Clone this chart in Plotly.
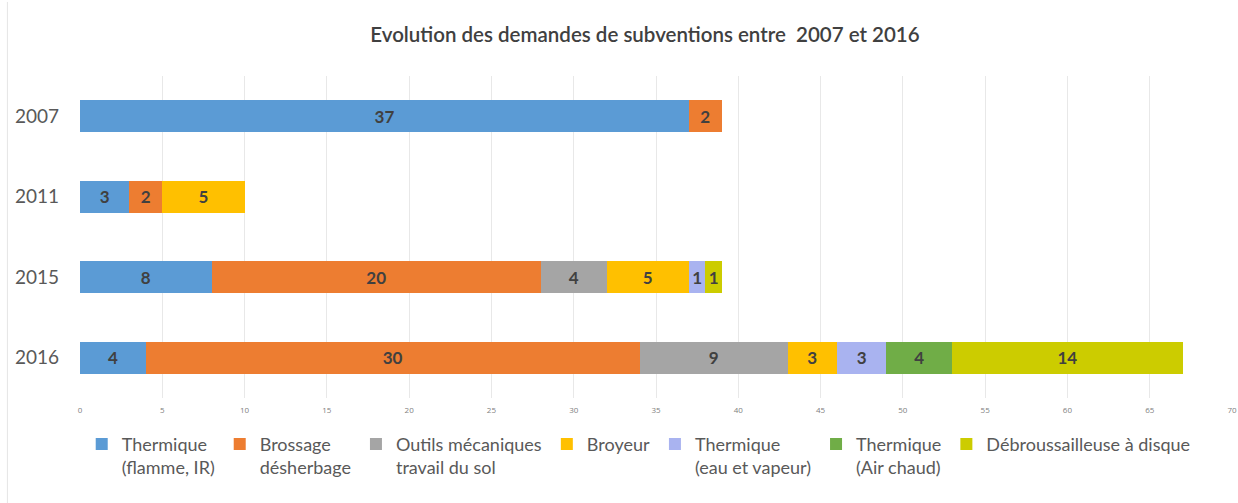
import plotly.graph_objects as go

years = ["2007", "2011", "2015", "2016"]
series_names = [
    "Thermique<br>(flamme, IR)",
    "Brossage<br>désherbage",
    "Outils mécaniques<br>travail du sol",
    "Broyeur",
    "Thermique<br>(eau et vapeur)",
    "Thermique<br>(Air chaud)",
    "Débroussailleuse à disque",
]
thermique_flamme = [37, 3, 8, 4]
brossage = [2, 2, 20, 30]
outils = [None, None, 4, 9]
broyeur = [None, 5, 5, 3]
thermique_eau = [None, None, 1, 3]
thermique_air = [None, None, None, 4]
debroussailleuse = [None, None, 1, 14]
series_values = [thermique_flamme, brossage, outils, broyeur, thermique_eau, thermique_air, debroussailleuse]
colors = ["#5B9BD5", "#ED7D31", "#A5A5A5", "#FFC000", "#A9B3F0", "#70AD47", "#CCCC00"]
x_ticks = list(range(0, 71, 5))

fig = go.Figure()
for name, vals, col in zip(series_names, series_values, colors):
    fig.add_trace(go.Bar(
        y=years, x=vals, name=name, orientation="h",
        marker=dict(color=col, line=dict(width=0)),
        text=[("" if v is None else str(v)) for v in vals],
        textposition="inside", insidetextanchor="middle", textangle=0,
        textfont=dict(family="Lato", size=17, color="#404040", weight="bold"),
        constraintext="none",
        hoverinfo="x+name",
    ))

fig.update_layout(
    barmode="stack",
    bargap=0.6,
    width=1238, height=503,
    margin=dict(l=80, r=6, t=76, b=105, autoexpand=False),
    paper_bgcolor="white", plot_bgcolor="white",
    title=dict(text="Evolution des demandes de subventions entre  2007 et 2016",
               x=0.521, xanchor="center", y=0.93, yanchor="middle",
               font=dict(family="Lato", size=20.5, color="#404040", weight=600)),
    xaxis=dict(range=[0, 70], tickvals=x_ticks, showgrid=True, gridcolor="#E8E8E8", gridwidth=1,
               zeroline=False, showline=False, tickfont=dict(size=8, color="#808080", family="Open Sans"),
               ticks="", automargin=False, ticklabelstandoff=6),
    yaxis=dict(categoryorder="array", categoryarray=years, autorange="reversed",
               tickfont=dict(size=19, color="#595959", family="Lato"), ticks="",
               ticklabelstandoff=20, showgrid=False, showline=False, automargin=False),
    legend=dict(orientation="h", x=0.485, xanchor="center", y=-0.086, yanchor="top",
                font=dict(family="Lato", size=18, color="#595959"),
                traceorder="normal", itemsizing="constant", valign="top", tracegroupgap=0),
    showlegend=True,
)
fig.add_shape(type="line", xref="paper", yref="paper", x0=-0.063, x1=-0.063, y0=-0.33, y1=1.23,
              line=dict(color="#E6E6E6", width=1))
fig.write_html("out.html", config={"displayModeBar": False},
               post_script="document.body.style.margin='0px';document.body.style.overflow='hidden';")
